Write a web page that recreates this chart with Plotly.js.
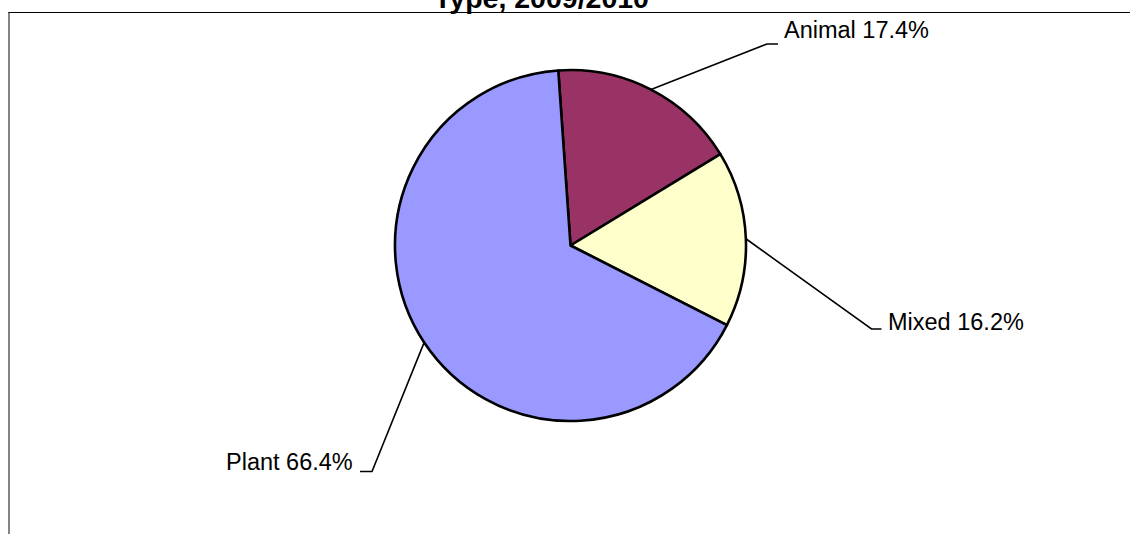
<!DOCTYPE html>
<html><head><meta charset="utf-8">
<script src="https://cdn.plot.ly/plotly-3.0.1.min.js"></script>
<style>html,body{margin:0;padding:0;background:#fff;overflow:hidden;} #chart{width:1130px;height:534px;}</style>
</head><body><div id="chart"></div>
<script>
// ---- data ----
const categories = ['Animal', 'Mixed', 'Plant'];
const shares = [17.4, 16.2, 66.4];
const sliceColors = ['#993366', '#FFFFCC', '#9999FF'];
const chartTitle = 'Type, 2009/2010';

// ---- layout constants (pixels) ----
const W = 1130, H = 534;
const CX = 570.5, CY = 245.5, R = 175.5;
const ROT = -4;
const labelLayout = [
  {x: 782, y: 30.5, anchor: 'left',  elbow: [767, 44],    end: [778, 44]},
  {x: 886, y: 322,  anchor: 'left',  elbow: [871.5, 329], end: [881.5, 329]},
  {x: 355, y: 462,  anchor: 'right', elbow: [372, 471.5], end: [360, 471.5]}
];
const FONT = 'Liberation Sans, Arial, sans-serif';
const px = x => x / W, py = y => 1 - y / H;

const total = shares.reduce((a, b) => a + b, 0);
let acc = 0;
const shapes = [], annotations = [];
shares.forEach((v, i) => {
  const mid = (ROT + (acc + v / 2) / total * 360) * Math.PI / 180;
  acc += v;
  const ex = CX + R * Math.sin(mid), ey = CY - R * Math.cos(mid);
  const L = labelLayout[i];
  shapes.push({
    type: 'path', xref: 'paper', yref: 'paper',
    path: `M ${px(ex)} ${py(ey)} L ${px(L.elbow[0])} ${py(L.elbow[1])} L ${px(L.end[0])} ${py(L.end[1])}`,
    line: {color: '#000', width: 1.6}
  });
  annotations.push({
    xref: 'paper', yref: 'paper', x: px(L.x), y: py(L.y),
    xanchor: L.anchor, yanchor: 'middle', showarrow: false,
    text: `${categories[i]} ${v.toFixed(1)}%`,
    font: {family: FONT, size: 23.5, color: '#000'}
  });
});

// chart title (partly cut off at the top, as in the reference)
annotations.push({
  xref: 'paper', yref: 'paper', x: px(541.5), y: py(16),
  xanchor: 'center', yanchor: 'bottom', showarrow: false,
  text: '<b>' + chartTitle + '</b>',
  font: {family: FONT, size: 28.5, color: '#000'}
});

// frame
shapes.push({type: 'line', xref: 'paper', yref: 'paper',
  x0: px(8), x1: px(W + 10), y0: py(12.5), y1: py(12.5), line: {color: '#000', width: 1.2}});
shapes.push({type: 'line', xref: 'paper', yref: 'paper',
  x0: px(9), x1: px(9), y0: py(12), y1: py(H + 10), line: {color: '#333', width: 1.2}});

const trace = {
  type: 'pie',
  labels: categories,
  values: shares,
  sort: false,
  direction: 'clockwise',
  rotation: ROT,
  textinfo: 'none',
  hoverinfo: 'label+percent',
  marker: {colors: sliceColors, line: {color: '#000', width: 2.6}},
  domain: {x: [px(CX - R), px(CX + R)], y: [py(CY + R), py(CY - R)]}
};

Plotly.newPlot('chart', [trace], {
  width: W, height: H,
  margin: {l: 0, r: 0, t: 0, b: 0},
  paper_bgcolor: '#fff',
  showlegend: false,
  shapes: shapes,
  annotations: annotations
}, {displayModeBar: false, staticPlot: true});
</script>
</body></html>
